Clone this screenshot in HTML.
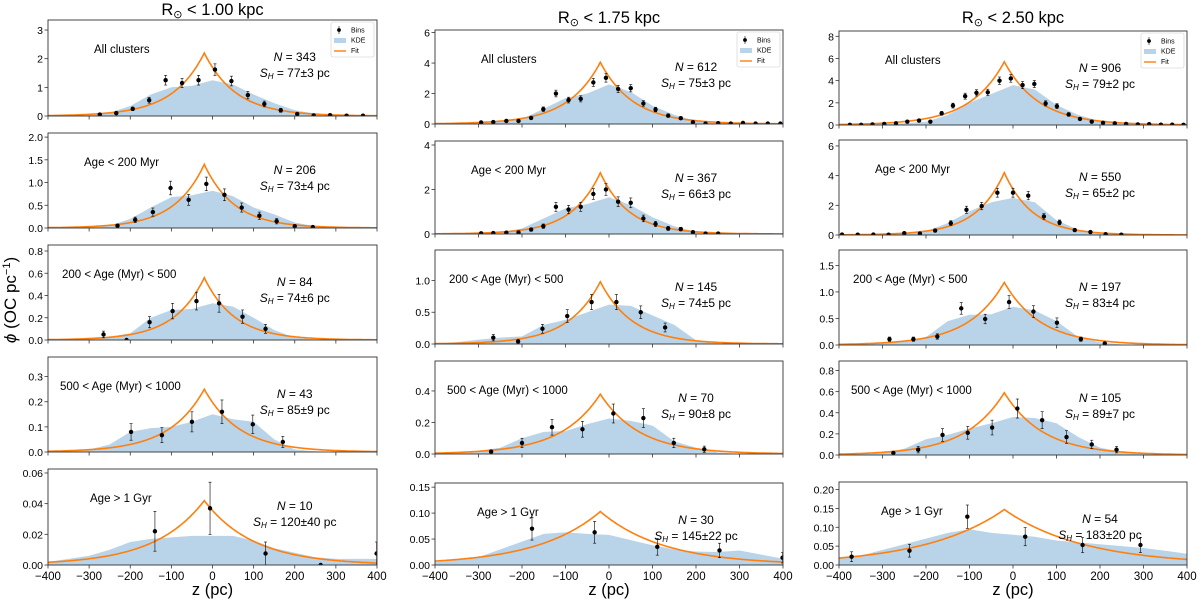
<!DOCTYPE html>
<html><head><meta charset="utf-8"><style>
body{margin:0;background:#fff}
svg{display:block;font-family:"Liberation Sans","DejaVu Sans",sans-serif}
</style></head><body>
<svg id="fig" width="1200" height="604" viewBox="0 0 1200 604" xmlns="http://www.w3.org/2000/svg"></svg>
<script>
// ---------- data ----------
const colTitles=["1.00","1.75","2.50"];
const rowLabels=["All clusters","Age < 200 Myr","200 < Age (Myr) < 500","500 < Age (Myr) < 1000","Age > 1 Gyr"];
const nValues=[[343,206,84,43,10],[612,367,145,70,30],[906,550,197,105,54]];
const shText=[["77±3","73±4","74±6","85±9","120±40"],["75±3","66±3","74±5","90±8","145±22"],["79±2","65±2","83±4","89±7","183±20"]];
const fitAmp=[[2.2,1.4,0.56,0.25,0.042],[4.05,2.75,0.98,0.38,0.103],[5.7,4.2,1.18,0.59,0.147]];
const fitScale=[[77,73,74,85,120],[75,66,74,90,145],[79,65,83,89,183]];
const fitCenter=-20;
const yMax=[[3.35,2.09,0.854,0.378,0.0626],[6.17,4.18,1.48,0.59,0.158],[8.48,6.4,1.79,0.89,0.22]];
const yTicks=[[[0,1,2,3],[0,0.5,1,1.5,2],[0,0.2,0.4,0.6,0.8],[0,0.1,0.2,0.3],[0,0.02,0.04,0.06]],
 [[0,2,4,6],[0,2,4],[0,0.5,1],[0,0.2,0.4],[0,0.05,0.1,0.15]],
 [[0,2,4,6,8],[0,2,4,6],[0,0.5,1,1.5],[0,0.2,0.4,0.6,0.8],[0,0.05,0.1,0.15,0.2]]];
const yTickDec=[[0,1,1,1,2],[0,0,1,1,2],[0,0,1,1,2]];
const xTicks=[-400,-300,-200,-100,0,100,200,300,400];
const kdeZ=[-400,-350,-300,-250,-200,-150,-100,-50,0,50,100,150,200,250,300,350,400];
const kde=[[
 [.02,.03,.06,.12,.35,.75,1.0,1.05,1.25,1.1,.75,.45,.2,.08,.04,.02,.01],
 [.01,.01,.02,.05,.2,.45,.68,.72,.82,.7,.45,.3,.12,.04,.02,.01,0],
 [.005,.01,.02,.03,.06,.2,.27,.28,.33,.3,.2,.09,.02,.005,0,0,0],
 [.002,.005,.01,.03,.08,.095,.1,.12,.15,.13,.12,.05,.01,.003,0,0,0],
 [.002,.004,.006,.01,.015,.017,.018,.019,.019,.019,.016,.011,.008,.005,.004,.004,.004]],[
 [.02,.04,.08,.15,.35,1.0,1.7,2.0,2.6,2.1,1.2,.6,.2,.06,.03,.02,.01],
 [.01,.02,.04,.08,.25,.7,1.15,1.35,1.65,1.3,.75,.35,.1,.02,.01,.005,0],
 [.01,.03,.07,.1,.12,.3,.38,.5,.62,.6,.45,.3,.06,.01,0,0,0],
 [.005,.01,.02,.04,.1,.14,.145,.19,.225,.21,.18,.08,.04,.01,0,0,0],
 [.005,.01,.015,.03,.045,.06,.063,.06,.058,.048,.038,.03,.026,.025,.028,.02,.012]],[
 [.02,.04,.08,.15,.3,.9,2.0,2.8,3.6,3.2,1.8,.9,.35,.12,.05,.03,.02],
 [.01,.02,.04,.08,.25,.8,1.6,2.2,2.5,2.2,1.0,.35,.1,.03,.01,.005,0],
 [.01,.03,.05,.07,.15,.45,.57,.58,.72,.65,.45,.15,.05,.01,0,0,0],
 [.005,.01,.02,.06,.15,.19,.25,.3,.36,.35,.3,.17,.07,.03,.01,0,0],
 [.02,.025,.04,.055,.07,.085,.095,.085,.08,.075,.065,.06,.055,.05,.045,.038,.03]]];
const binZ=[[
 [-274,-234,-194,-154,-114,-74,-34,6,46,86,126,166,206,246,286,326,366],
 [-231,-188,-145,-102,-58,-15,29,71,114,156,200,244],
 [-265,-209,-153,-97,-39,16,73,129],
 [-198,-123,-50,23,98,171],
 [-140,-6,129,263,399]],[
 [-294,-266,-236,-208,-179,-151,-122,-93,-65,-36,-7,21,50,79,107,136,165,193,222,251,280,308,337,365,394],
 [-294,-266,-236,-208,-179,-151,-122,-93,-65,-36,-7,21,50,79,107,136,165,193,222,251],
 [-266,-209,-153,-96,-40,17,73,129],
 [-271,-200,-131,-61,10,79,149,219],
 [-177,-33,111,254,399]],[
 [-375,-349,-323,-296,-269,-243,-216,-190,-164,-138,-110,-84,-58,-31,-5,22,49,75,101,128,154,181,207,234,260,287,313,340,366,392],
 [-393,-357,-321,-286,-250,-214,-179,-143,-107,-72,-36,0,35,71,107,142,178,213,249],
 [-284,-229,-174,-119,-64,-9,47,101,156,211],
 [-275,-218,-162,-104,-48,10,67,123,181,238],
 [-371,-238,-105,28,160,293]]];
const binV=[[
 [.05,.1,.25,.55,1.25,1.15,1.25,1.62,1.22,.73,.42,.2,.07,.02,.03,.01,.01],
 [.05,.18,.35,.88,.62,.97,.73,.45,.27,.15,.04,.02],
 [.05,0,.16,.26,.35,.33,.21,.1],
 [.08,.067,.12,.16,.11,.04],
 [.022,.037,.0075,0,.0075]],[
 [.1,.13,.2,.2,.4,.97,2.0,1.57,1.65,2.73,3.03,2.3,2.35,1.35,.95,.55,.38,.12,.03,.05,.03,.07,.03,.03,.03],
 [.03,.04,.06,.07,.2,.35,1.22,1.1,1.22,1.8,2.0,1.45,1.4,.7,.45,.25,.22,.08,.02,.02],
 [.1,.04,.24,.44,.66,.66,.5,.26],
 [.015,.07,.17,.157,.257,.228,.07,.03],
 [.07,.063,.035,.028,.014]],[
 [.02,.02,.05,.1,.15,.3,.4,.3,1.05,1.75,2.6,2.9,2.95,4.0,4.2,3.6,3.7,1.95,1.7,.95,.55,.3,.2,.15,.1,.05,.07,.03,.03,.02],
 [.03,.02,.03,.02,.12,.1,.3,.8,1.7,1.95,2.85,2.85,2.65,1.25,.85,.33,.2,.05,.02],
 [.11,.11,.16,.69,.49,.81,.63,.42,.11,.03],
 [.02,.05,.19,.21,.26,.44,.33,.17,.1,.05],
 [.022,.038,.128,.075,.053,.053]]];
const binE=[[
 [.03,.04,.06,.1,.17,.16,.17,.2,.17,.13,.1,.07,.04,.02,.02,.01,.01],
 [.03,.06,.09,.15,.12,.15,.13,.1,.08,.06,.03,.02],
 [.03,.01,.05,.07,.08,.08,.06,.04],
 [.033,.03,.04,.047,.037,.022],
 [.013,.017,.0075,0,.0075]],[
 [.04,.05,.06,.06,.09,.15,.22,.19,.2,.26,.28,.24,.24,.18,.15,.11,.09,.05,.03,.03,.03,.04,.03,.03,.03],
 [.03,.03,.04,.04,.07,.1,.2,.19,.2,.24,.26,.22,.22,.15,.12,.09,.08,.05,.02,.02],
 [.05,.03,.07,.1,.12,.12,.1,.07],
 [.01,.03,.05,.05,.06,.06,.03,.02],
 [.022,.021,.016,.014,.01]],[
 [.02,.02,.04,.05,.07,.09,.1,.09,.17,.22,.27,.28,.28,.33,.34,.32,.32,.23,.22,.16,.12,.09,.08,.07,.06,.04,.05,.03,.03,.02],
 [.03,.02,.03,.02,.06,.05,.1,.16,.24,.25,.3,.3,.28,.19,.16,.1,.08,.04,.02],
 [.04,.04,.05,.11,.09,.12,.11,.09,.04,.02],
 [.01,.03,.06,.06,.07,.09,.08,.06,.04,.03],
 [.013,.017,.031,.024,.02,.02]]];

// ---------- layout ----------
const colX=[[48,377],[435,783],[839,1187]];
const rowY=[[[20,116],[133,228],[245,340],[357,452],[469,565]],
 [[30,124],[141,234],[250,344],[361,454],[483,565]],
 [[31,125],[140,235],[250,345],[361,455],[482,565]]];
const titleY=[15,23,23];
const labelDx=[46,36,14,12,42];

const NS="http://www.w3.org/2000/svg";
const svg=document.getElementById('fig');
function mk(tag,attrs,parent){const e=document.createElementNS(NS,tag);for(const k in attrs)e.setAttribute(k,attrs[k]);(parent||svg).appendChild(e);return e;}

for(let c=0;c<3;c++){
  const [x0,x1]=colX[c];
  const colG=mk('g',{});
  
  
  const t=mk('text',{x:(x0+x1)/2,y:titleY[c],'text-anchor':'middle','font-size':16.5,fill:'#000'},colG);
  
  
  t.innerHTML='R<tspan font-size="11" dy="3">⊙</tspan><tspan dy="-3"> &lt; '+colTitles[c]+' kpc</tspan>';
  for(let r=0;r<5;r++){
    const [y0,y1]=rowY[c][r];
    const ym=yMax[c][r];
    const sx=z=>x0+(z+400)/800*(x1-x0);
    const sy=v=>y1-v/ym*(y1-y0);
    const g=mk('g',{},colG);
    
    
    const cid='clip'+c+r;
    const cp=mk('clipPath',{id:cid},g);mk('rect',{x:x0,y:y0,width:x1-x0,height:y1-y0},cp);
    const pg=mk('g',{'clip-path':'url(#'+cid+')'},g);
    let d='M'+sx(kdeZ[0])+','+sy(0);
    kdeZ.forEach((z,i)=>{d+=' L'+sx(z).toFixed(1)+','+sy(kde[c][r][i]).toFixed(1);});
    d+=' L'+sx(kdeZ[kdeZ.length-1])+','+sy(0)+'Z';
    const k=mk('path',{d:d,fill:'#b9d4e8'},pg);
    
    
    let fd='';
    for(let z=-400;z<=400;z+=2){
      const v=fitAmp[c][r]*Math.exp(-Math.abs(z-fitCenter)/fitScale[c][r]);
      fd+=(z===-400?'M':' L')+sx(z).toFixed(1)+','+sy(v).toFixed(1);
      if(z<fitCenter&&z+2>fitCenter){fd+=' L'+sx(fitCenter).toFixed(1)+','+sy(fitAmp[c][r]).toFixed(1);}
    }
    const f=mk('path',{d:fd,fill:'none',stroke:'#ff7f0e','stroke-width':1.6},pg);
    
    
    binZ[c][r].forEach((z,i)=>{
      const v=binV[c][r][i],e=binE[c][r][i];
      const bx=sx(z);
      const bg=mk('g',{},pg);
      
      
      if(e>0){
        mk('line',{x1:bx,x2:bx,y1:sy(v-e),y2:sy(v+e),stroke:'#000','stroke-width':0.6},bg);
        mk('line',{x1:bx-1.5,x2:bx+1.5,y1:sy(v-e),y2:sy(v-e),stroke:'#000','stroke-width':0.6},bg);
        mk('line',{x1:bx-1.5,x2:bx+1.5,y1:sy(v+e),y2:sy(v+e),stroke:'#000','stroke-width':0.6},bg);
      }
      mk('circle',{cx:bx,cy:sy(v),r:2.2,fill:'#000'},bg);
    });
    const fr=mk('rect',{x:x0,y:y0,width:x1-x0,height:y1-y0,fill:'none',stroke:'#333','stroke-width':0.9},g);
    
    
    xTicks.forEach(z=>{
      mk('line',{x1:sx(z),x2:sx(z),y1:y1,y2:y1+3.5,stroke:'#333','stroke-width':0.8},g);
      if(r===4){
        const tl=mk('text',{x:sx(z),y:y1+15,'text-anchor':'middle','font-size':11.5,fill:'#000'},g);
        
        
        tl.textContent=(z<0?'\u2212'+(-z):String(z));
      }
    });
    yTicks[c][r].forEach(v=>{
      mk('line',{x1:x0-3.5,x2:x0,y1:sy(v),y2:sy(v),stroke:'#333','stroke-width':0.8},g);
      const tl=mk('text',{x:x0-5,y:sy(v)+4,'text-anchor':'end','font-size':10.5,fill:'#000'},g);
      
      
      tl.textContent=v.toFixed(yTickDec[c][r]);
    });
    const lb=mk('text',{x:x0+labelDx[r],y:y0+33,'font-size':11.5,fill:'#000'},g);
    
    
    lb.textContent=rowLabels[r];
    const cx=x0+0.75*(x1-x0);
    const nt=mk('text',{x:cx,y:y0+41,'text-anchor':'middle','font-size':12,fill:'#000'},g);
    
    
    nt.innerHTML='<tspan font-style="italic">N</tspan> = '+nValues[c][r];
    const st=mk('text',{x:cx,y:y0+57,'text-anchor':'middle','font-size':12,fill:'#000'},g);
    
    
    st.innerHTML='<tspan font-style="italic">S</tspan><tspan font-style="italic" font-size="8" dy="2">H</tspan><tspan dy="-2"> = '+shText[c][r]+' pc</tspan>';
    if(r===0){
      const lx=x1-46,ly=y0+2;
      const lg=mk('g',{},g);
      
      
      mk('rect',{x:lx,y:ly,width:43,height:35,fill:'#fff',stroke:'#ccc','stroke-width':0.6,rx:2},lg);
      mk('line',{x1:lx+8,x2:lx+8,y1:ly+4,y2:ly+12,stroke:'#000','stroke-width':0.6},lg);
      mk('circle',{cx:lx+8,cy:ly+8,r:1.9,fill:'#000'},lg);
      mk('rect',{x:lx+3,y:ly+16,width:12,height:5,fill:'#b9d4e8'},lg);
      mk('line',{x1:lx+3,x2:lx+15,y1:ly+29,y2:ly+29,stroke:'#ff7f0e','stroke-width':1.4},lg);
      [['Bins',10.5],['KDE',20.5],['Fit',31]].forEach(([s,dy])=>{
        const e=mk('text',{x:lx+20,y:ly+dy,'font-size':7,fill:'#000'},lg);
        
        
        e.textContent=s;
      });
    }
  }
  const xl=mk('text',{x:(x0+x1)/2,y:595,'text-anchor':'middle','font-size':16.5,fill:'#000'},colG);
  
  
  xl.textContent='z (pc)';
}
const yl=mk('text',{x:0,y:0,'text-anchor':'middle','font-size':17,fill:'#000',transform:'translate(16,300) rotate(-90)'});


yl.innerHTML='<tspan font-style="italic">ϕ</tspan> (OC pc<tspan font-size="11" dy="-6">−1</tspan><tspan dy="6">)</tspan>';
</script>
</body></html>
